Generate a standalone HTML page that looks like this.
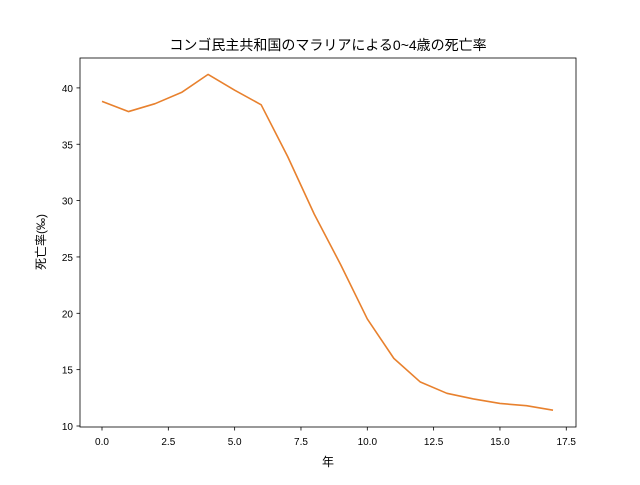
<!DOCTYPE html>
<html><head><meta charset="utf-8"><style>
body{margin:0;background:#fff;}
svg text{font-family:"Liberation Sans","Noto Sans CJK JP",sans-serif;fill:#000;}
</style></head><body>
<svg id="chart" width="640" height="480">
<rect width="640" height="480" fill="#fff"/>
<text x="328" y="50" font-size="14" text-anchor="middle">コンゴ民主共和国のマラリアによる0~4歳の死亡率</text>
<g id="grid"></g>
<g id="plot"></g>
<rect x="80" y="58" width="496" height="369" fill="none" stroke="#000" stroke-width="0.8"/>
<text x="328" y="466" font-size="12" text-anchor="middle">年</text>
<text transform="translate(45,242) rotate(-90)" font-size="12" text-anchor="middle">死亡率(‰)</text>
</svg>
<script>
const years=[0,1,2,3,4,5,6,7,8,9,10,11,12,13,14,15,16,17];
const rates=[38.8,37.9,38.6,39.6,41.2,39.8,38.5,33.9,28.8,24.3,19.5,16.0,13.9,12.9,12.4,12.0,11.8,11.4];
const xTicks=[0,2.5,5,7.5,10,12.5,15,17.5];
const xTickLabels=["0.0","2.5","5.0","7.5","10.0","12.5","15.0","17.5"];
const yTicks=[10,15,20,25,30,35,40];
const yTickLabels=["10","15","20","25","30","35","40"];
const NS="http://www.w3.org/2000/svg";
const xs=v=>102+v*26.53;
const ys=v=>426-(v-10)*11.27;
const g=document.getElementById('grid');
function mk(t,a,p){const e=document.createElementNS(NS,t);for(const k in a)e.setAttribute(k,a[k]);p.appendChild(e);return e;}
xTicks.forEach((t,i)=>{
 const l=mk('line',{x1:xs(t),x2:xs(t),y1:427,y2:430.5,stroke:'#000','stroke-width':0.8},g);
 
 
 const tx=mk('text',{x:xs(t),y:445,'font-size':10,'text-anchor':'middle'},g);
 tx.textContent=xTickLabels[i];
 
 
});
yTicks.forEach((t,i)=>{
 const l=mk('line',{x1:76.5,x2:80,y1:ys(t),y2:ys(t),stroke:'#000','stroke-width':0.8},g);
 
 
 const tx=mk('text',{x:73,y:ys(t)+4,'font-size':10,'text-anchor':'end'},g);
 tx.textContent=yTickLabels[i];
 
 
});
const pts=years.map((y,i)=>xs(y)+','+ys(rates[i])).join(' ');
const p=mk('polyline',{points:pts,fill:'none',stroke:'#e8812e','stroke-width':1.6,'stroke-linejoin':'round'},document.getElementById('plot'));


</script>
</body></html>
